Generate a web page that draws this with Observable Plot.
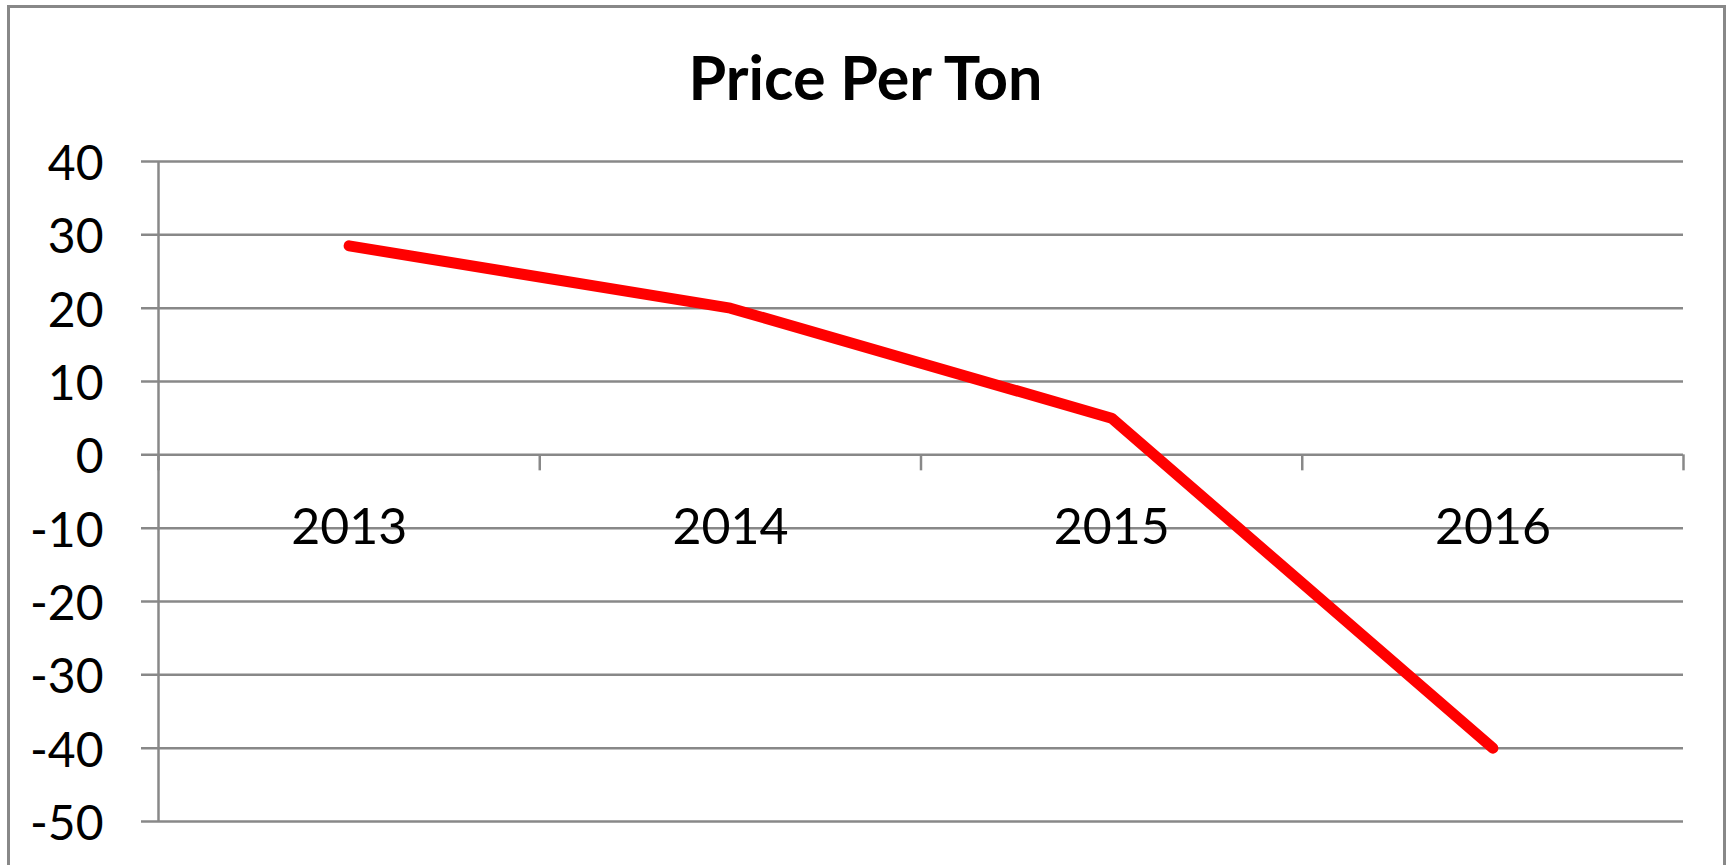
<!DOCTYPE html>
<html>
<head>
<meta charset="utf-8">
<script src="https://cdn.jsdelivr.net/npm/d3@7"></script>
<script src="https://cdn.jsdelivr.net/npm/@observablehq/plot@0.6"></script>
<style>
  html, body { margin: 0; padding: 0; background: #fff; }
  #wrap { position: relative; width: 1731px; height: 865px; overflow: hidden; font-family: Lato, "Open Sans", sans-serif; }
  #frame { position: absolute; left: 7px; top: 5px; width: 1719px; height: 900px; border: 3px solid #888; box-sizing: border-box; }
  #title { position: absolute; left: 0; width: 1731px; top: 42px; text-align: center; font-size: 61px; font-weight: bold; color: #000; line-height: 70px; }
  #chart { position: absolute; left: 0; top: 0; }
</style>
</head>
<body>
<div id="wrap">
  <div id="frame"></div>
  <div id="chart"></div>
  <div id="title">Price Per Ton</div>
</div>
<script>
const categories = ["2013", "2014", "2015", "2016"];
const prices = [28.5, 20, 5, -40];
const yTicks = [40, 30, 20, 10, 0, -10, -20, -30, -40, -50];

const n = categories.length;
const boundaries = d3.range(n + 1).map(i => i - 0.5);
const grey = "#888888";

const chart = Plot.plot({
  width: 1731,
  height: 865,
  marginLeft: 158,
  marginRight: 48,
  marginTop: 161,
  marginBottom: 44,
  style: { fontFamily: "Lato, 'Open Sans', sans-serif", background: "transparent" },
  x: { domain: [-0.5, n - 0.5], axis: null },
  y: { domain: [-50, 40], axis: null },
  marks: [
    Plot.ruleY(yTicks, { y: d => d, x1: -0.5, x2: n - 0.5, stroke: grey, strokeWidth: 2.5, insetLeft: -17 }),
    Plot.ruleX([-0.5], { x: d => d, y1: -50, y2: 40, stroke: grey, strokeWidth: 2.5 }),
    Plot.ruleX(boundaries, { x: d => d, y1: 0, y2: 0, insetBottom: -16, stroke: grey, strokeWidth: 2.5 }),
    Plot.text(yTicks, { x: -0.5, y: d => d, dx: -55, dy: 3, text: d => String(d), textAnchor: "end", fontSize: 48, fill: "#000" }),
    Plot.text(categories, { x: (d, i) => i, y: 0, dy: 73, text: d => d, fontSize: 50, fill: "#000" }),
    Plot.line(prices, { x: (d, i) => i, y: d => d, stroke: "#ff0000", strokeWidth: 11, strokeLinecap: "round", strokeLinejoin: "round" })
  ]
});
document.getElementById("chart").appendChild(chart);
</script>
</body>
</html>
